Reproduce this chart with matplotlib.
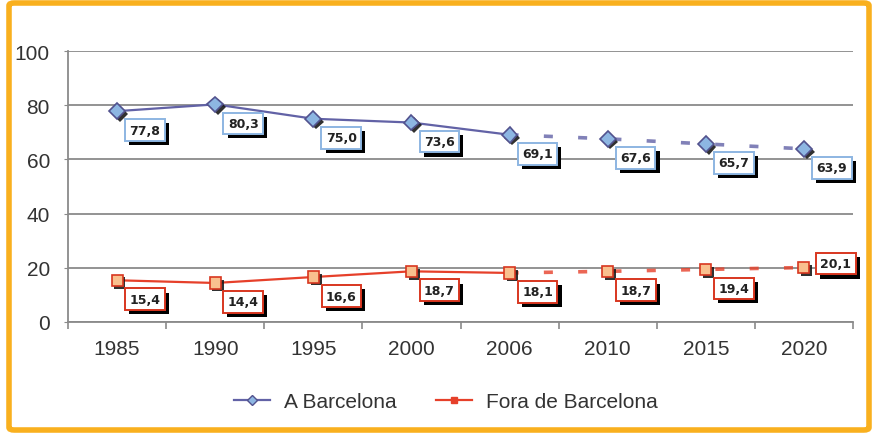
import matplotlib
matplotlib.use("Agg")
import matplotlib.pyplot as plt
import matplotlib.patheffects as pe
from matplotlib.patches import FancyBboxPatch

# data
years = ["1985", "1990", "1995", "2000", "2006", "2010", "2015", "2020"]
barcelona = [77.8, 80.3, 75.0, 73.6, 69.1, 67.6, 65.7, 63.9]
fora = [15.4, 14.4, 16.6, 18.7, 18.1, 18.7, 19.4, 20.1]
last_real = 4  # index of 2006, projections after it

plt.rcParams["font.family"] = ["Liberation Sans", "DejaVu Sans"]

fig = plt.figure(figsize=(8.75, 4.35), dpi=100)
ax = fig.add_axes([68 / 875, 1 - 323 / 435, 785 / 875, 271 / 435])

xs = [i + 0.5 for i in range(len(years))]

blue_line = "#6262A6"
blue_face = "#8DB6E2"
blue_edge = "#52528E"
red_line = "#E6402A"
red_face = "#F9C08E"
red_edge = "#D8361F"

shadow = [pe.SimplePatchShadow(offset=(2, -2), shadow_rgbFace="#1a1a1a", alpha=0.9), pe.Normal()]

for vals, lc, fc, ec, mk, ms in [
    (barcelona, blue_line, blue_face, blue_edge, "D", 8),
    (fora, red_line, red_face, red_edge, "s", 8),
]:
    # real values: solid, projection: dashed
    ax.plot(xs[:last_real + 1], vals[:last_real + 1], color=lc, lw=1.6, zorder=3)
    ax.plot(xs[last_real:], vals[last_real:], color=lc, lw=2.6, alpha=0.8,
            linestyle=(0, (2.5, 7)), zorder=3)
    ax.plot(xs, vals, linestyle="none", marker=mk, markersize=ms,
            markerfacecolor=fc, markeredgecolor=ec, markeredgewidth=1.2,
            path_effects=shadow, zorder=4)

box_shadow = [pe.SimplePatchShadow(offset=(3, -3), shadow_rgbFace="black", alpha=1.0), pe.Normal()]


def label_points(vals, edge):
    for i, v in enumerate(vals):
        off = (28, -19)
        if edge == red_edge and i == len(vals) - 1:
            off = (32, 4)
        t = ax.annotate(f"{v:.1f}".replace(".", ","), xy=(xs[i], v), xytext=off,
                        textcoords="offset pixels", ha="center", va="center",
                        fontsize=9, fontweight="bold", family="DejaVu Sans", color="#222222",
                        bbox=dict(boxstyle="square,pad=0.35", facecolor="white",
                                  edgecolor=edge, linewidth=1.4),
                        zorder=6, annotation_clip=False)
        t.get_bbox_patch().set_path_effects(box_shadow)


label_points(barcelona, "#8DB6E2")
label_points(fora, red_edge)

ax.set_xlim(0, len(years))
ax.set_ylim(0, 100)
ax.set_yticks(range(0, 101, 20))
ax.yaxis.grid(True, color="#8a8a8a", linewidth=1.3)
ax.set_axisbelow(True)

ax.set_xticks(range(0, len(years) + 1))
ax.set_xticklabels([])
ax.set_xticks(xs, minor=True)
ax.set_xticklabels(years, minor=True)
ax.tick_params(axis="x", which="major", length=5, color="#8a8a8a", width=1.2)
ax.tick_params(axis="x", which="minor", length=0, pad=12, labelsize=15, labelcolor="#333333")
ax.tick_params(axis="y", length=3, color="#8a8a8a", pad=10, labelsize=15, labelcolor="#333333")

for s in ["top", "right"]:
    ax.spines[s].set_visible(False)
for s in ["left", "bottom"]:
    ax.spines[s].set_color("#8a8a8a")
    ax.spines[s].set_linewidth(1.3)

h1, = ax.plot([], [], color=blue_line, marker="D", markersize=5,
              markerfacecolor=blue_face, markeredgecolor=blue_edge, lw=1.6)
h2, = ax.plot([], [], color=red_line, marker="s", markersize=4,
              markerfacecolor=red_line, markeredgecolor=red_line, lw=1.6)
fig.legend([h1, h2], ["A Barcelona", "Fora de Barcelona"], loc="center",
           bbox_to_anchor=(0.51, 1 - 403 / 435), ncol=2, frameon=False,
           fontsize=15, handlelength=1.7, handletextpad=0.7, columnspacing=1.9,
           labelcolor="#333333")

# orange frame around the whole figure
frame = FancyBboxPatch((9 / 875, 4 / 435), 860 / 875, 427 / 435,
                       boxstyle="round,pad=0,rounding_size=0.006",
                       transform=fig.transFigure, facecolor="none",
                       edgecolor="#F9B01E", linewidth=4, zorder=10)
fig.patches.append(frame)

fig.savefig("out.png", dpi=100)
